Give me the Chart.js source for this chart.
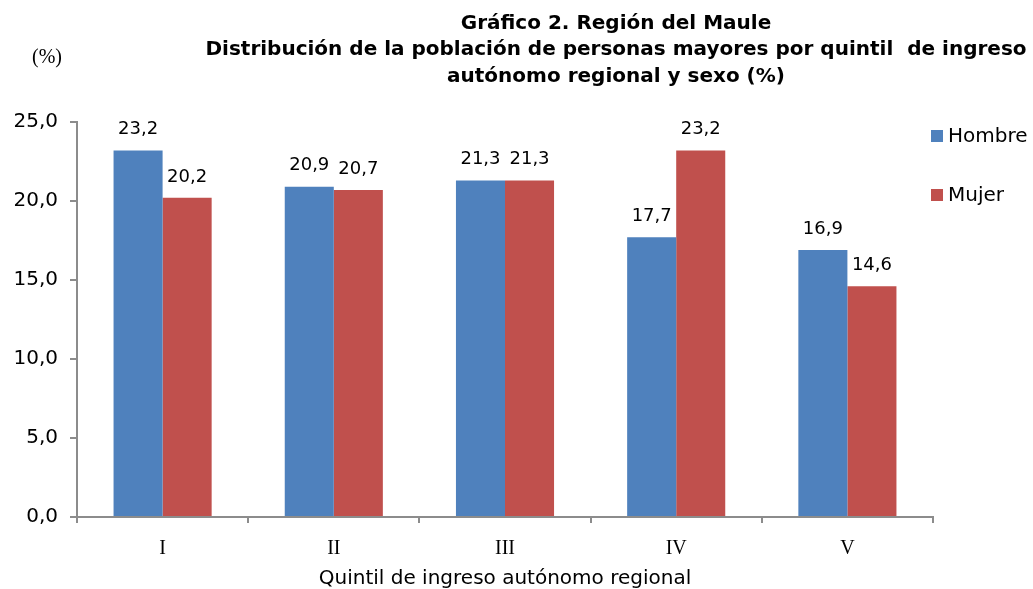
<!DOCTYPE html>
<html>
<head>
<meta charset="utf-8">
<script src="https://cdn.jsdelivr.net/npm/chart.js@4.4.1/dist/chart.umd.min.js"></script>
<style>
  html, body { margin: 0; padding: 0; background: #fff; }
  canvas { display: block; }
</style>
</head>
<body>
<canvas id="chart" width="1033" height="589"></canvas>
<script>
const quintiles = ["I", "II", "III", "IV", "V"];
const hombre = [23.2, 20.9, 21.3, 17.7, 16.9];
const mujer = [20.2, 20.7, 21.3, 23.2, 14.6];
const titleLines = [
    "Gráfico 2. Región del Maule",
    "Distribución de la población de personas mayores por quintil  de ingreso",
    "autónomo regional y sexo (%)"
];
const yUnit = "(%)";
const xTitle = "Quintil de ingreso autónomo regional";

const BLUE = "#4F81BD";
const RED = "#C0504D";
const AXIS = "#8c8c8c";
const SANS = "'DejaVu Sans', Verdana, sans-serif";
const SERIF = "'Liberation Serif', 'Times New Roman', serif";

const fmt = v => v.toFixed(1).replace(".", ",");

// title, unit label, legend and the value labels on top of the bars
const extras = {
    id: "extras",
    afterDatasetsDraw(chart) {
        const ctx = chart.ctx;
        ctx.save();
        ctx.fillStyle = "#000";
        ctx.textAlign = "center";
        ctx.textBaseline = "middle";

        ctx.font = "bold 20px " + SANS;
        const ty = [24, 50, 77];
        titleLines.forEach((t, i) => ctx.fillText(t, 616, ty[i]));

        ctx.font = "20px " + SERIF;
        ctx.fillText(yUnit, 47, 58);

        ctx.font = "18px " + SANS;
        chart.data.datasets.forEach((ds, di) => {
            chart.getDatasetMeta(di).data.forEach((bar, i) => {
                ctx.fillText(fmt(ds.data[i]), bar.x, bar.y - 21);
            });
        });

        ctx.font = "20px " + SANS;
        ctx.textAlign = "left";
        const ly = [136, 195];
        chart.data.datasets.forEach((ds, di) => {
            ctx.fillStyle = ds.backgroundColor;
            ctx.fillRect(931, ly[di] - 6, 12, 12);
            ctx.fillStyle = "#000";
            ctx.fillText(ds.label, 948, ly[di] + 1);
        });
        ctx.restore();
    }
};

new Chart(document.getElementById("chart"), {
    type: "bar",
    data: {
        labels: quintiles,
        datasets: [
            {label: "Hombre", data: hombre, backgroundColor: BLUE, borderWidth: 0},
            {label: "Mujer", data: mujer, backgroundColor: RED, borderWidth: 0}
        ]
    },
    options: {
        responsive: false,
        animation: false,
        devicePixelRatio: 1,
        layout: {padding: {top: 122, right: 100, bottom: 0, left: 0}},
        categoryPercentage: 0.573,
        barPercentage: 1,
        plugins: {
            legend: {display: false},
            title: {display: false},
            tooltip: {enabled: false}
        },
        scales: {
            x: {
                afterFit: s => { s.height = 72; },
                grid: {
                    drawOnChartArea: false,
                    color: AXIS,
                    lineWidth: 2,
                    tickLength: 6,
                    offset: true
                },
                border: {color: AXIS, width: 2},
                ticks: {
                    color: "#000",
                    padding: 14,
                    font: {family: SERIF, size: 20}
                },
                title: {
                    display: true,
                    text: xTitle,
                    color: "#000",
                    font: {family: SANS, size: 20},
                    padding: {top: 0, bottom: -2}
                }
            },
            y: {
                min: 0,
                max: 25,
                afterFit: s => { s.width = 77; },
                grid: {
                    drawOnChartArea: false,
                    color: AXIS,
                    lineWidth: 2,
                    tickLength: 7
                },
                border: {color: AXIS, width: 2},
                ticks: {
                    stepSize: 5,
                    color: "#000",
                    padding: 12,
                    font: {family: SANS, size: 20},
                    callback: v => fmt(v)
                }
            }
        }
    },
    plugins: [extras]
});
</script>
</body>
</html>
